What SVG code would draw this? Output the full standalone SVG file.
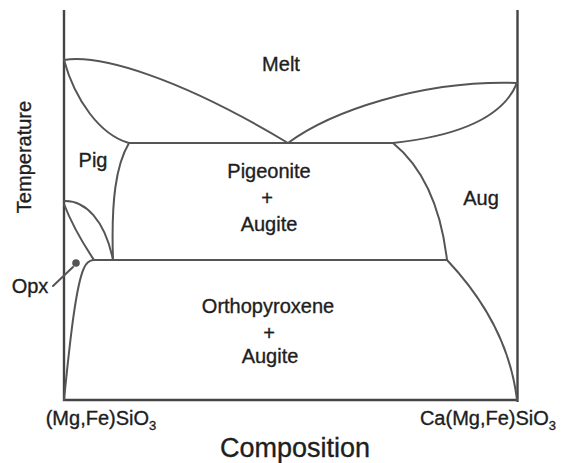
<svg xmlns="http://www.w3.org/2000/svg" width="566" height="463" viewBox="0 0 566 463">
<style>
.ln{fill:none;stroke:#555;stroke-width:2;stroke-linecap:round;stroke-linejoin:round}
.ax{fill:none;stroke:#444;stroke-width:2.4}
.t{font-family:"Liberation Sans",Arial,sans-serif;font-size:20px;fill:#1e1e1e;stroke:#1e1e1e;stroke-width:0.35;text-anchor:middle}
.big{font-size:27px}
.sub{font-size:13px}
</style>
<rect width="566" height="463" fill="#fff"/>
<g id="axes">
<path class="ax" d="M64,10 V400 H517.5 M517.5,10 V402"/>
</g>
<g id="boundaries">
<path class="ln" d="M64,60 C100,54 180,78 288,143"/>
<path class="ln" d="M64,60 C75,100 100,135 129,143"/>
<path class="ln" d="M288,143 C330,112 420,80 517,83"/>
<path class="ln" d="M393,143 C440,138 500,125 517,83"/>
<path class="ln" d="M129,143 H393"/>
<path class="ln" d="M129,143 C116,165 111,200 113,260"/>
<path class="ln" d="M393,143 C420,165 440,200 447,260"/>
<path class="ln" d="M64,201 C85,200 105,220 113,260"/>
<path class="ln" d="M64,204 C72,225 84,245 94,260"/>
<path class="ln" d="M64,400 C70,340 76,285 84,268 Q87,261 93,260 H447"/>
<path class="ln" d="M447,260 C480,295 510,340 517,400"/>
<path class="ln" d="M73,267 L53,286"/>
<circle cx="76" cy="263" r="3.8" fill="#555"/>
</g>
<g id="melt"><text class="t" x="281" y="71">Melt</text></g>
<g id="pig"><text class="t" x="93" y="167">Pig</text></g>
<g id="aug"><text class="t" x="481" y="205">Aug</text></g>
<g id="opx"><text class="t" x="30" y="293">Opx</text></g>
<g id="pig-aug">
<text class="t" x="269" y="178">Pigeonite</text>
<text class="t" x="267" y="205">+</text>
<text class="t" x="269" y="231">Augite</text>
</g>
<g id="opx-aug">
<text class="t" x="268" y="313">Orthopyroxene</text>
<text class="t" x="269" y="340">+</text>
<text class="t" x="270" y="363">Augite</text>
</g>
<g id="xlabels">
<text class="t" x="101" y="425">(Mg,Fe)SiO<tspan class="sub" dy="5">3</tspan></text>
<text class="t" x="488" y="425">Ca(Mg,Fe)SiO<tspan class="sub" dy="5">3</tspan></text>
<text class="t big" x="295" y="457">Composition</text>
</g>
<g id="ylabel"><text class="t" transform="translate(31,157) rotate(-90)">Temperature</text></g>
</svg>
